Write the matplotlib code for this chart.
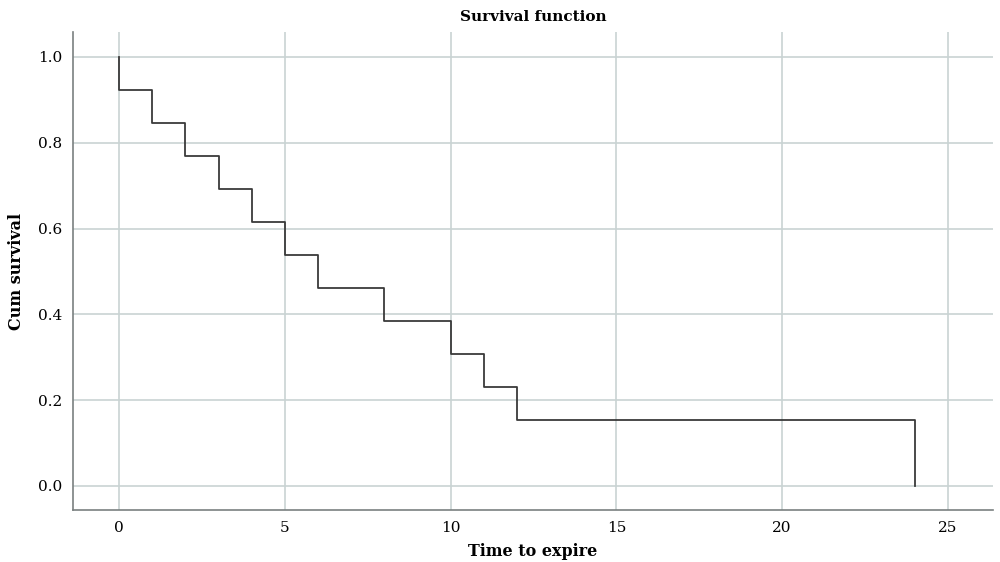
import matplotlib
matplotlib.use("Agg")
import matplotlib.pyplot as plt

times = [0, 0, 1, 2, 3, 4, 5, 6, 8, 10, 11, 12, 24]
survival = [1.0, 0.923, 0.846, 0.769, 0.692, 0.615, 0.538, 0.462, 0.385, 0.308, 0.231, 0.154, 0.0]
xticks = [0, 5, 10, 15, 20, 25]
yticks = [0.0, 0.2, 0.4, 0.6, 0.8, 1.0]

plt.rcParams['font.family'] = ['DejaVu Serif']
fig = plt.figure(figsize=(10, 5.62), dpi=100)
ax = fig.add_axes([0.073, 0.0925, 0.92, 0.8505])

ax.step(times, survival, where='post', color='#3a3a3a', lw=1.3, zorder=3)

ax.set_xlim(-1.39, 26.36)
ax.set_ylim(-0.056, 1.058)
ax.set_xticks(xticks)
ax.set_yticks(yticks)
ax.set_xticklabels([str(t) for t in xticks])
ax.set_yticklabels([f"{t:.1f}" for t in yticks])
ax.tick_params(length=0, labelsize=11, pad=8)
ax.grid(True, color='#c9d3d3', lw=1.2, zorder=0)
for s in ['top', 'right']:
    ax.spines[s].set_visible(False)
for s in ['left', 'bottom']:
    ax.spines[s].set_color('#7a8080')
    ax.spines[s].set_linewidth(1.2)

ax.set_title('Survival function', fontsize=11, fontweight='bold', pad=8)
ax.set_xlabel('Time to expire', fontsize=11.5, fontweight='bold', labelpad=6)
ax.set_ylabel('Cum survival', fontsize=11.5, fontweight='bold', labelpad=9)

fig.savefig('out.png', dpi=100)
